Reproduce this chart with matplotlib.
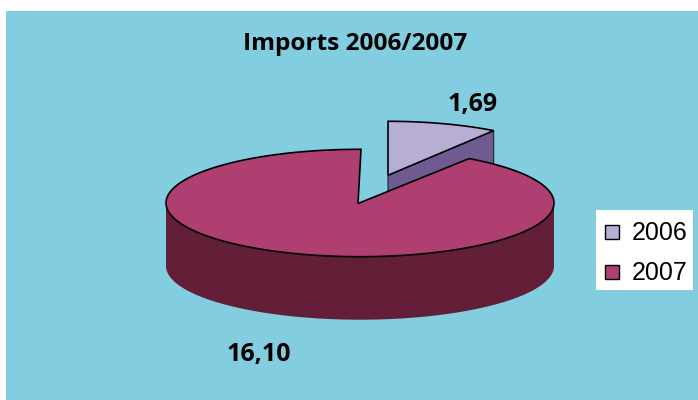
import numpy as np
import matplotlib
matplotlib.use("Agg")
import matplotlib.pyplot as plt
from matplotlib.patches import Polygon, Rectangle

title = "Imports 2006/2007"
years = ["2006", "2007"]
values = [1.69, 16.10]
value_labels = ["1,69", "16,10"]
top_colors = ["#B8AED4", "#AE3F70"]
side_colors = ["#6F5B92", "#631F38"]
bg = "#82CDE0"

W, H = 698, 400
fig = plt.figure(figsize=(W / 100, H / 100), dpi=100, facecolor="white")
ax = fig.add_axes([0, 0, 1, 1])
ax.set_xlim(0, W)
ax.set_ylim(H, 0)
ax.axis("off")
ax.add_patch(Rectangle((6, 11), W - 6, H - 11, fc=bg, ec="none", zorder=0))

cx, cy, rx, ry, depth = 360, 203, 194, 53.7, 63
shares = np.array(values) / sum(values) * 360
edges = np.concatenate([[0], np.cumsum(shares)])


def rim(a0, a1, ccx, ccy, rrx, rry, dz=0):
    t = np.radians(np.linspace(a0, a1, 240))
    return np.column_stack([ccx + rrx * np.sin(t), ccy + dz - rry * np.cos(t)])


# small slice (behind)
scx, scy, srx, sry = 388, 175.3, 188, 54
a0, a1 = edges[0], edges[1]
apex = np.array([scx, scy])
end = rim(a1, a1, scx, scy, srx, sry)[0]
ax.add_patch(Polygon([apex, end, end + [0, depth], apex + [0, depth]],
                     fc=side_colors[0], ec="#222222", lw=0.8, zorder=2))
ax.add_patch(Polygon(np.vstack([[apex], rim(a0, a1, scx, scy, srx, sry)]),
                     fc=top_colors[0], ec="black", lw=1.2, joinstyle="miter", zorder=3))

# large slice
a0, a1 = edges[1], edges[2]
front = rim(90, 270, cx, cy, rx, ry)
ax.add_patch(Polygon(np.vstack([front, rim(270, 90, cx, cy, rx, ry, depth)]),
                     fc=side_colors[1], ec="none", zorder=4))
ax.add_patch(Polygon(np.vstack([[[cx - 2, cy + 0.5]], rim(a0, a1 + 0.3, cx, cy, rx, ry)]),
                     fc=top_colors[1], ec="black", lw=1.2, joinstyle="miter", zorder=5))

ax.text(355, 44, title, ha="center", va="center", fontsize=17.6, fontweight="bold",
        family="Open Sans", color="black")
ax.text(472.5, 105, value_labels[0], ha="center", va="center", fontsize=18, fontweight="bold",
        family="Open Sans", color="black")
ax.text(258.5, 354, value_labels[1], ha="center", va="center", fontsize=18, fontweight="bold",
        family="Open Sans", color="black")

# legend
ax.add_patch(Rectangle((596, 210), 97, 80, fc="white", ec="none", zorder=6))
for yr, col, ly in zip(years, top_colors, [231.5, 271.5]):
    ax.add_patch(Rectangle((604.5, ly - 7), 14, 14, fc=col, ec="black", lw=1.0, zorder=7))
    ax.text(632, ly + 1, yr, ha="left", va="center", fontsize=18, family="Liberation Sans",
            color="black", zorder=7)

fig.savefig("out.png", dpi=100, facecolor="white")
